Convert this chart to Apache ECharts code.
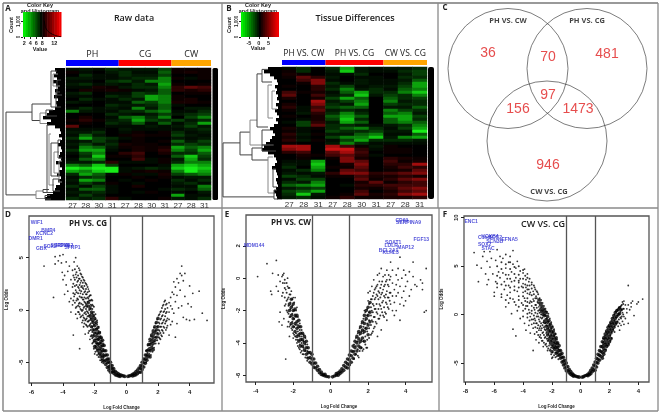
<!DOCTYPE html>
<html><head><meta charset="utf-8">
<style>html,body{margin:0;padding:0;background:#fff}#c{width:662px;height:415px;filter:blur(0.35px)}</style>
<script src="https://cdn.jsdelivr.net/npm/echarts@6/dist/echarts.min.js"></script>
</head><body><div id="c"></div>
<script>
// ---------- heatmap A ----------
const rawSamples=['27','28','30','31','27','28','30','31','27','28','31'];
const rawGroups=[['PH',0,4],['CG',4,8],['CW',8,11]];
const rawRows=[
[-1,-2,-1,-3,-2,-2,-2,-4,1,1,1],[1,-1,0,-2,-3,-1,-1,-5,1,2,1],[0,-3,-1,-1,-3,-2,-2,-4,0,0,1],[-2,-2,-1,-1,-2,-3,-3,-6,1,-1,1],
[-1,-1,0,-3,-4,-2,-6,-6,0,0,0],[-2,-3,-1,-2,-1,-3,-2,-7,1,0,1],[-1,-1,2,1,-2,-3,-3,-6,3,5,4],[0,2,1,2,1,-1,-2,-5,3,2,3],
[-2,-3,0,-1,-1,-4,-3,-5,0,1,1],[-1,-1,0,-3,-2,-4,-7,-6,1,0,0],[0,-3,-1,-1,-3,-2,-7,-6,1,2,0],[-2,-1,0,-1,-1,-5,-4,-6,2,2,1],
[0,0,0,-3,-2,-2,-3,-5,-1,0,0],[-1,-3,-1,-2,-1,-6,-2,-5,0,-2,-2],[-6,-2,-1,-1,-3,-3,-5,-6,-1,-1,-3],[0,0,0,-3,-2,-1,-2,-4,-2,-3,-4],
[0,2,0,-1,-5,-6,-3,-6,0,-4,-6],[1,3,1,-2,-3,-7,-4,-3,-4,-2,-3],[0,1,0,-3,-2,-5,-1,-5,-1,-3,-7],[5,0,0,-1,-1,-1,-2,-1,-2,-4,-2],
[-1,-1,-1,0,-2,-1,-1,-1,-1,-2,-3],[-2,-2,-3,0,-1,1,0,1,-3,-1,-2],[-1,-5,-2,0,1,2,1,1,-4,-2,-1],[-3,-7,-4,-3,-1,1,0,0,-2,-1,-2],
[-1,-2,-4,-2,0,1,0,1,-5,-2,-4],[-2,-4,-2,-3,2,1,1,0,-3,-4,-3],[-1,-6,-5,-2,1,2,1,2,-7,-5,-6],[-3,-7,-7,-1,0,2,1,3,-6,-4,-7],
[-1,-4,-6,0,3,4,0,2,-3,-3,-5],[0,-3,-8,1,1,3,0,0,-5,-8,-4],[-1,-5,-6,0,0,4,-1,1,-2,-7,-3],[-2,-2,-3,3,-1,-1,-1,1,-3,-6,-6],
[-6,-5,-8,-4,0,0,0,-1,-7,-8,-7],[-9,-8,-9,-9,-1,-2,-3,-2,-8,-9,-8],[-7,-6,-8,-9,-1,1,2,1,-6,-9,-7],[-3,-7,-5,-1,1,-1,-1,2,-4,-5,-6],
[-1,-3,-4,0,0,1,0,1,-1,-2,-2],[-2,-7,-6,0,-1,0,1,0,-3,-1,-3],[-1,-4,-2,1,0,-1,0,0,-2,-3,-1],[-3,-1,-4,-1,0,2,0,0,-1,-1,-6],
[-1,-5,-5,-1,0,0,0,-1,-3,-2,-5],[-2,-2,-3,-1,0,-1,1,0,-1,0,-2],[-1,-4,-2,0,0,0,0,0,-7,-1,-1],[-3,-2,-3,3,-1,0,0,1,-2,-1,-3]];
// ---------- heatmap B ----------
const diffSamples=['27','28','31','27','28','30','31','27','28','31'];
const diffGroups=[['PH VS. CW',0,3],['PH VS. CG',3,7],['CW VS. CG',7,10]];
const diffRows=[
[-1,-3,0,-3,-7,-2,-1,-2,-2,-3],[1,-3,0,-2,-8,-2,-1,-1,-3,-4],[2,1,0,-1,-1,-3,0,0,-2,-4],[1,5,3,-2,0,-1,-1,0,-3,-3],
[0,4,6,-1,0,-2,-1,-1,-2,-5],[0,1,6,-3,-1,-2,-1,-1,-3,-7],[1,0,3,-2,-4,-1,-2,-2,-4,-7],[0,0,3,-3,-6,-2,-3,-1,-5,-6],
[4,1,2,-1,-5,-7,-3,-3,-6,-8],[5,0,4,-2,-3,-8,-2,-4,-3,-6],[2,0,2,-4,-7,-5,0,-5,-3,-4],[0,0,7,-2,-4,-6,0,-6,-2,-3],
[2,0,6,-3,-2,-7,0,-4,-3,-3],[3,-1,4,-4,-5,-5,0,-2,-2,-5],[1,-1,5,-2,-3,-2,0,-6,-4,-3],[0,-2,3,-3,-6,-3,0,-5,-6,-2],
[1,0,2,-5,-7,-5,0,-7,-7,-4],[0,-1,2,-4,-8,-3,0,-5,-7,-3],[-1,-4,3,-2,-7,-5,0,-5,-6,-5],[0,-4,5,-3,-3,-2,-1,-2,-3,-6],
[2,-1,1,-3,-5,-6,-3,-1,-4,-7],[1,-1,0,-4,-3,-3,-4,-2,-2,-9],[3,-2,1,-2,-2,-5,-6,-1,-1,-5],[2,-1,0,-4,-6,-6,-8,-2,-6,-7],
[3,-2,1,-1,-4,-7,-3,-3,-3,-2],[1,0,0,-2,-6,-3,-1,-1,-1,-1],[7,7,0,7,4,1,-2,1,0,0],[6,7,0,8,8,3,-1,1,1,0],
[3,4,0,5,7,4,0,1,1,0],[0,2,1,4,5,3,-1,0,0,0],[0,1,0,1,6,2,0,3,2,1],[-1,-1,-7,0,6,5,0,4,1,2],
[-2,-1,-8,0,2,6,0,3,3,7],[-3,0,-7,1,1,5,0,2,4,3],[-1,-3,-6,0,5,4,0,1,2,5],[-2,-1,-2,3,6,6,3,4,5,6],
[-4,-3,-1,1,1,4,2,2,3,2],[-1,-4,-4,0,0,5,1,3,5,6],[-3,-2,-6,0,0,2,5,1,3,4],[-5,-6,-7,0,-1,3,3,4,4,4],
[-2,-3,-4,0,0,2,1,3,5,6],[-4,-5,-7,0,0,4,0,2,4,5],[-3,-8,-2,0,1,5,2,3,6,7],[-2,-3,-1,1,3,1,1,2,2,3]];
// ---------- dendrograms: [height, rowTop, rowBottom, heightTop, heightBottom] ----------
const rawLinks=[
[59,14.7,42.3,33,29],[33,12,17.5,14,25],[25,15,18.5,19,18],[19,14,16,12,8],[14,1,13,8,9],[12,2,6,7,5],[9,8,13,5,4],
[18,19,41.5,16,12],[16,22,39,14,11],[14,25,36,7,6],[12,37,41,6,5],[29,41,43.5,22,20],[22,40.5,41.5,16,14],[20,42.5,43.7,15,14],
[11,28,35,6,5],[7,24,30,4,3],[8,4,9,4,3],[6,31,38,3,3]];
const rawWedges=[
[10,0,1],[9,1,2],[11,2,3],[8,3,4],[12,4,5],[9,5,6],[7,6,7],[10,7,8],[8,8,9],[11,9,10],[7,10,11],[9,11,12],[8,12,13],[10,13,14],
[16,14,15],[18,15,16],[22,16,17],[14,17,18],[18,18,19],[10,19,20],[5,20,21],[4,21,22],[6,22,23],[3,23,24],[5,24,25],[7,25,26],
[4,26,27],[3,27,28],[5,28,29],[6,29,30],[4,30,31],[9,31,32],[5,32,33],[3,33,34],[6,34,35],[8,35,36],[4,36,37],[7,37,38],[5,38,39],
[9,39,40],[10,40,41],[12,41,42],[18,42,43],[20,43,44]];
const diffLinks=[
[59,25.3,43.3,42,8],[42,21.7,29.3,32,30],[32,17.7,26,25,20],[25,2.3,20,20,14],[20,0.8,5,14,10],[14,6,17,10,9],[20,21,26,12,8],
[30,27,31,20,14],[14,30,42,9,7],[20,26,28,9,6],[8,41,44,5,4],[10,8,14,7,5],[9,34,40,6,5]];
const diffWedges=[
[14,0,1],[18,1,2],[12,2,3],[8,3,4],[5,4,5],[4,5,6],[7,6,7],[5,7,8],[6,8,9],[4,9,10],[5,10,11],[3,11,12],[6,12,13],[4,13,14],
[7,14,15],[5,15,16],[3,16,17],[6,17,18],[4,18,19],[8,19,20],[12,20,21],[9,21,22],[7,22,23],[10,23,24],[12,24,25],[16,25,26],
[18,26,27],[20,27,28],[14,28,29],[8,29,30],[6,30,31],[5,31,32],[7,32,33],[10,33,34],[6,34,35],[5,35,36],[4,36,37],[6,37,38],
[5,38,39],[4,39,40],[6,40,41],[8,41,42],[6,42,43],[5,43,44]];
// ---------- histograms in the colour keys ----------
const rawHistogram=[[8.6,1050],[9,620],[9.6,420],[10.4,280],[11.4,170],[12.4,90],[13.4,40],[14.2,15]];
// ---------- Venn ----------
const vennNames=['PH VS. CW','PH VS. CG','CW VS. CG'];
const vennCounts=[36,70,481,156,97,1473,946];
// ---------- volcano D: PH VS. CG (log fold change, log odds) ----------
const dDense=[-.1,-6.35,-.2,-6.3,-.3,-6.25,-.4,-6.2,-.4,-6.35,-.5,-6.1,-.5,-6.3,-.6,-6,-.6,-6.25,-.7,-5.85,-.7,-6.2,-.8,-5.6,-.8,-6.05,-.8,-5.85,-.9,-5.3,-.9,-5.6,-.9,-5.9,-1,-5,-1,-5.3,-1,-5.6,-1,-5.95,-1.1,-4.7,-1.1,-5,-1.1,-5.4,-1.1,-5.75,-1.2,-4.3,-1.2,-4.7,-1.2,-5.05,-1.2,-5.5,-1.3,-3.9,-1.3,-4.3,-1.3,-4.8,-1.3,-5.2,-1.4,-3.4,-1.4,-3.9,-1.4,-4.4,-1.4,-4.9,-1.5,-2.9,-1.5,-3.4,-1.5,-3.9,-1.5,-4.4,-1.5,-4.8,-1.6,-2.6,-1.6,-3,-1.6,-3.5,-1.6,-4,-1.6,-4.5,-1.7,-2.2,-1.7,-2.7,-1.7,-3.2,-1.7,-3.7,-1.7,-4.2,-1.8,-1.7,-1.8,-2.2,-1.8,-2.8,-1.8,-3.3,-1.8,-3.9,-1.9,-1.2,-1.9,-1.9,-1.9,-2.5,-1.9,-3.1,-1.9,-3.6,-2,-.8,-2,-1.5,-2,-2.2,-2,-2.9,-2,-3.5,-2.1,-.5,-2.1,-1.2,-2.1,-1.9,-2.1,-2.5,-2.2,-.2,-2.2,-.9,-2.2,-1.6,-2.3,.2,-2.3,-.6,-2.4,.7,-2.5,.4,
.1,-6.35,.2,-6.3,.3,-6.25,.4,-6.3,.4,-6.15,.5,-6.05,.5,-6.25,.6,-5.9,.6,-6.2,.7,-5.75,.7,-6.1,.8,-5.55,.8,-5.95,.9,-5.3,.9,-5.6,.9,-5.95,1,-5,1,-5.35,1,-5.7,1.1,-4.7,1.1,-5.05,1.1,-5.45,1.2,-4.3,1.2,-4.7,1.2,-5.1,1.3,-3.9,1.3,-4.3,1.3,-4.8,1.4,-3.3,1.4,-3.8,1.4,-4.4,1.5,-2.8,1.5,-3.3,1.5,-3.9,1.5,-4.5,1.6,-2.4,1.6,-3,1.6,-3.6,1.7,-2,1.7,-2.6,1.7,-3.2,1.7,-3.8,1.8,-1.6,1.8,-2.2,1.8,-2.9,1.9,-1.2,1.9,-1.9,1.9,-2.6,2,-.8,2,-1.6,2,-2.3];
const dSparse=[-5.2,4.2,-4.6,1.2,-4.5,5.1,-4.5,4.4,-4.3,4.7,-4.2,5.2,-4.1,4.5,-4.05,3.6,-4,5.3,-4,2.9,-3.9,3.3,-3.9,1.5,-3.8,4.6,-3.8,2.4,-3.7,3.7,-3.7,1.8,-3.6,4.2,-3.6,.8,-3.5,2.9,-3.5,1.1,-3.5,-.2,-3.4,3.8,-3.4,2.2,-3.4,.5,-3.35,-2.4,-3.3,4.6,-3.3,3.1,-3.3,1.3,-3.2,5,-3.2,3.4,-3.2,1.9,-3.2,.2,-3.2,-.4,-3.1,4.2,-3.1,2.7,-3.1,1.1,-3.1,-.8,-3,4,-3,3,-3,2.1,-3,.6,-3,-.2,-2.95,-3.7,-2.9,3.5,-2.9,2.6,-2.9,1.6,-2.9,.1,-2.9,-.7,-2.8,3.2,-2.8,2.3,-2.8,1.2,-2.8,-.1,-2.8,-1.2,-2.7,2.9,-2.7,2,-2.7,1,-2.7,.2,-2.7,-.7,-2.7,-1.6,-2.6,2.6,-2.6,1.8,-2.6,.7,-2.6,-.2,-2.6,-1,-2.6,-2.3,-2.5,2.4,-2.5,1.5,-2.5,-.1,-2.5,-.8,-2.5,-1.5,-2.4,2,-2.4,1.1,-2.4,-.3,-2.4,-1.1,-2.4,-2.2,-2.3,1.4,-2.3,.9,-2.3,-1.4,-2.3,-2.8,-2.2,1,-2.2,.4,-2.2,-2.4,-2.1,.4,-2.1,-3.1,-2,-4.2,
2.1,-.4,2.1,-1.3,2.1,-2,2.1,-2.7,2.2,-.1,2.2,-.8,2.2,-1.6,2.2,-2.4,2.3,.4,2.3,-.5,2.3,-1.2,2.3,-2,2.4,.8,2.4,-.1,2.4,-.9,2.4,-1.7,2.5,.5,2.5,-.3,2.5,-1.1,2.5,-1.9,2.6,.2,2.6,-.8,2.6,-1.5,2.7,.7,2.7,-.2,2.7,-.9,2.7,-2.4,2.8,1.2,2.8,.4,2.8,-1.4,2.9,1.7,2.9,.1,2.9,-1.1,3,2.7,3,1.5,3,-.3,3.1,2.2,3.1,.8,3.1,-2.6,3.2,3,3.2,1.4,3.2,-1.3,3.3,2.6,3.3,.2,3.4,3.5,3.4,1.9,3.5,4.2,3.5,3.3,3.5,.4,3.6,2.8,3.6,-.7,3.7,3.5,3.7,1.3,3.8,-.9,3.9,.6,4,2.3,4,-1,4.1,.3,4.2,1.6,4.3,-.9,4.6,1.8,4.8,-.3,5.1,-1];
const dBand=[[-3.35,[3.3,2.5,1.6,.9]],[-3.25,[3.9,2.9,2.3,1.5,.7]],[-3.15,[3.6,3.1,2.4,1.7,.9,.3]],[-3.05,[3.3,2.8,2.2,1.6,1,.4,-.2]],[-2.95,[3.8,3,2.4,1.9,1.3,.7,.3,-.4]],[-2.85,[3.4,2.8,2.2,1.8,1.2,.6,0,-.6]],[-2.75,[3.1,2.6,2.1,1.5,1,.5,0,-.5,-1]],[-2.65,[2.8,2.3,1.7,1.2,.8,.3,-.3,-.8,-1.3]],[-2.55,[2.5,2,1.5,1.1,.6,.1,-.4,-.9,-1.4]],[-2.45,[2.2,1.7,1.2,.8,.3,-.2,-.6,-1.1,-1.6]],[-2.35,[1.8,1.3,.9,.4,0,-.5,-1,-1.5,-2]],[-2.25,[1.4,.9,.5,.1,-.4,-.8,-1.3,-1.9,-2.5]],[-2.15,[.9,.5,.1,-.3,-.7,-1.1,-1.6,-2.1,-2.7,-3.2]],[-2.05,[.3,-.2,-.6,-1,-1.4,-1.9,-2.4,-3,-3.7]],[-1.95,[-.4,-.9,-1.3,-1.8,-2.2,-2.8,-3.4,-4]],[-1.85,[-1,-1.4,-1.8,-2.3,-2.8,-3.2,-3.8,-4.3]],[-1.75,[-1.6,-2,-2.5,-2.9,-3.5,-4.1,-4.5]],[-1.65,[-2.1,-2.5,-3.2,-3.8,-4.3,-4.8]],[-1.55,[-2.7,-3.2,-3.7,-4.2,-4.7,-5]],[-1.45,[-3.2,-3.7,-4.2,-4.6,-5.1]],
[1.25,[-3.9,-4.5,-5]],[1.35,[-3.4,-4.1,-4.6]],[1.45,[-3,-3.6,-4.2]],[1.55,[-2.5,-3.2,-3.8,-4.3]],[1.65,[-2.2,-2.8,-3.4,-4]],[1.75,[-1.7,-2.4,-3,-3.6]],[1.85,[-1.3,-2,-2.6,-3.2]],[1.95,[-.9,-1.6,-2.2,-2.9]],[2.05,[-.5,-1.2,-1.9,-2.6,-3.2]],[2.15,[-.2,-.9,-1.6,-2.2,-2.8]],[2.25,[.2,-.6,-1.3,-1.9,-2.5]],[2.35,[.5,-.2,-1,-1.6,-2.2]],[2.45,[.9,.1,-.6,-1.3]],[2.55,[.6,-.2,-1,-1.7]]];
const dGenes=[['WIF1',-5.66,8.4],['KCNC2',-5.18,7.3],['BMP4',-4.93,7.55],['DMR1',-5.73,6.8],['GBX',-5.37,5.83],['SOX2',-4.82,6.1],['SERPIN',-4.2,6.2],['HOXB2',-3.9,6.15],['SFRP1',-3.4,6]];
// ---------- volcano E: PH VS. CW ----------
const eDense=[-.1,-6.1,-.2,-6.08,-.3,-6.05,-.3,-5.95,-.4,-5.95,-.4,-6,-.5,-5.8,-.5,-5.95,-.6,-5.65,-.6,-5.85,-.7,-5.45,-.7,-5.7,-.8,-5.25,-.8,-5.55,-.9,-5,-.9,-5.25,-.9,-5.5,-1,-4.7,-1,-5,-1,-5.3,-1.1,-4.6,-1.1,-4.9,-1.1,-5.2,-1.2,-4.3,-1.2,-4.6,-1.2,-4.95,-1.3,-3.9,-1.3,-4.3,-1.3,-4.7,-1.4,-3.6,-1.4,-4,-1.4,-4.45,-1.5,-3.4,-1.5,-3.8,-1.5,-4.2,-1.6,-3,-1.6,-3.4,-1.6,-3.8,-1.6,-4.2,-1.7,-2.6,-1.7,-3,-1.7,-3.5,-1.7,-3.9,-1.8,-2.3,-1.8,-2.7,-1.8,-3.1,-1.8,-3.6,-1.9,-1.9,-1.9,-2.3,-1.9,-2.8,-1.9,-3.3,-2,-1.6,-2,-2,-2,-2.5,-2,-3,-2.1,-1.3,-2.1,-1.8,-2.1,-2.3,-2.1,-2.8,-2.2,-1.6,-2.2,-2,
.1,-6.1,.2,-6.05,.3,-6,.3,-5.9,.4,-5.85,.4,-6,.5,-5.75,.5,-5.9,.6,-5.6,.6,-5.8,.7,-5.4,.7,-5.7,.8,-5.2,.8,-5.5,.9,-5,.9,-5.3,.9,-5.55,1,-4.75,1,-5.05,1,-5.35,1.1,-4.5,1.1,-4.8,1.1,-5.2,1.2,-4.2,1.2,-4.55,1.2,-4.95,1.3,-3.9,1.3,-4.3,1.3,-4.7,1.4,-3.6,1.4,-4,1.4,-4.5,1.5,-3.3,1.5,-3.75,1.5,-4.2,1.6,-3,1.6,-3.4,1.6,-3.9,1.6,-4.3,1.7,-2.7,1.7,-3.2,1.7,-3.7,1.8,-2.3,1.8,-2.8,1.8,-3.3,1.8,-3.9,1.9,-2,1.9,-2.5,1.9,-3.1,2,-1.8,2,-2.3,2,-2.9,2,-3.5,2.1,-1.5,2.1,-2.1,2.1,-2.7];
const eSparse=[-3.9,.1,-3.4,.9,-3.2,-.8,-3.15,-1,-3.1,.3,-2.9,1.1,-2.9,-.5,-2.8,.2,-2.8,-.8,-2.7,-.2,-2.6,.1,-2.6,-1.1,-2.5,-2.5,-2.5,.3,-2.45,-.3,-2.4,-.7,-2.4,-1.6,-2.4,-5,-2.3,.0,-2.3,-.5,-2.3,-1.3,-2.3,-2.1,-2.2,-.6,-2.2,-1,-2.2,-2.4,-2.2,-3,-2.1,-.8,-2.1,-3.1,-2,-1.2,-2,-3.4,-2,-3.7,-1.9,-1.2,-1.9,-3.6,-1.8,-4,-1.8,-1.8,-1.7,-4.3,-1.6,-4.6,-1.5,-4.7,-2.7,-2.1,-2.75,-2.7,-2.6,-2.9,-2.3,-3,-2.2,-3.6,
1.5,-4.9,1.7,-4.5,1.8,-2,1.9,-4.3,2,-.9,2,-1.4,2.1,-.8,2.2,-.5,2.2,-1.3,2.2,-2,2.2,-2.6,2.2,-3.4,2.3,-.1,2.3,-.9,2.3,-1.7,2.3,-2.4,2.3,-3.1,2.4,-.6,2.4,-1.2,2.4,-1.9,2.4,-2.7,2.5,.2,2.5,-.4,2.5,-1.1,2.5,-2.2,2.5,-3.6,2.6,.3,2.6,-.2,2.6,-.9,2.6,-1.6,2.6,-2.5,2.7,.6,2.7,-.4,2.7,-1,2.7,-1.9,2.7,-3.2,2.8,.1,2.8,-.7,2.8,-1.4,2.8,-2.3,2.9,.2,2.9,-.4,2.9,-1.2,2.9,-2.1,3,.5,3,-.1,3,-.8,3,-1.6,3,-2.6,3.1,.2,3.1,-.5,3.1,-1.2,3.1,-1.9,3.2,1,3.2,.1,3.2,-.9,3.2,-1.6,3.3,.5,3.3,-.3,3.3,-1.1,3.3,-2,3.4,-.7,3.4,-1.5,3.4,-2.3,3.5,.2,3.5,-.4,3.5,-1.1,3.5,-2,3.6,.6,3.6,-.1,3.6,-.9,3.7,1.3,3.7,-.5,3.7,-1.6,3.7,-2.6,3.8,0,3.8,-1.2,3.9,.5,3.9,-.8,3.9,-1.7,4,.2,4,-.5,4,-1.4,4.1,-.2,4.2,.4,4.2,-1.1,4.3,-.7,4.4,.1,4.4,1,4.5,-.4,4.6,-.5,4.8,-.1,4.9,-.3,4.9,-.7,5,-2.1,5.1,.6,5.1,-2];
const eBand=[[-2.55,[.2,-.3,-.9]],[-2.45,[-.1,-.6,-1.2,-1.7]],[-2.35,[-.3,-.9,-1.4,-2]],[-2.25,[-.6,-1.2,-1.7,-2.2,-2.7]],[-2.15,[-1,-1.5,-1.9,-2.4,-2.9]],[-2.05,[-1.3,-1.7,-2.2,-2.7,-3.2]],[-1.95,[-1.5,-2,-2.5,-3,-3.5]],[-1.85,[-2,-2.4,-2.9,-3.4,-3.8]],[-1.75,[-2.4,-2.9,-3.3,-3.8,-4.2]],[-1.65,[-2.8,-3.2,-3.6,-4.1,-4.4]],[-1.55,[-3.2,-3.6,-4,-4.5]],[-1.45,[-3.5,-3.9,-4.3,-4.7]],[-1.35,[-3.7,-4.1,-4.5,-4.9]],[-1.25,[-4.1,-4.5,-4.9,-5.1]],
[1.25,[-4.1,-4.5,-5]],[1.35,[-3.7,-4.2,-4.7]],[1.45,[-3.4,-3.9,-4.4,-4.8]],[1.55,[-3.1,-3.5,-4,-4.5]],[1.65,[-2.8,-3.3,-3.8,-4.3]],[1.75,[-2.5,-3,-3.4,-3.9,-4.4]],[1.85,[-2.1,-2.6,-3.1,-3.6,-4.1]],[1.95,[-1.9,-2.3,-2.8,-3.3,-3.8,-4.3]],[2.05,[-1.6,-2.1,-2.6,-3.1,-3.7]],[2.15,[-1.3,-1.8,-2.3,-2.9,-3.5]],[2.25,[-1.1,-1.6,-2.1,-2.7,-3.3]],[2.35,[-.7,-1.3,-1.9,-2.4,-3]],[2.45,[-.5,-1,-1.6,-2.1,-2.8]],[2.55,[-.8,-1.3,-1.9,-2.5]],[2.65,[-.6,-1.2,-1.7,-2.3]],[2.75,[-.2,-.9,-1.5,-2.1]],[2.85,[-.5,-1.1,-1.8,-2.4]],[2.95,[-.2,-1,-1.5,-2.2]],[3.05,[-.4,-1.2,-1.8]],[3.15,[-.1,-.9,-1.4]]];
const eGenes=[['CD69',3.8,3.54],['SERPINA9',4.16,3.43],['FGF13',4.84,2.41],['MDM144',-4.09,2.04],['SOAT1',3.34,2.18],['LDLR',3.23,2],['MAP12',4,1.9],['BCL2A1',3.09,1.73],['KLHL3',3.2,1.58]];
// ---------- volcano F: CW VS. CG ----------
const fDense=[-.1,-6.45,-.2,-6.42,-.3,-6.38,-.4,-6.3,-.5,-6.2,-.5,-6.35,-.6,-6.05,-.6,-6.25,-.7,-5.85,-.7,-6.15,-.8,-5.65,-.8,-6,-.9,-5.35,-.9,-5.8,-1,-5,-1,-5.4,-1,-5.8,-1.1,-4.7,-1.1,-5.1,-1.1,-5.5,-1.2,-4.4,-1.2,-4.8,-1.2,-5.2,-1.3,-4,-1.3,-4.4,-1.3,-4.9,-1.4,-3.7,-1.4,-4.1,-1.4,-4.5,-1.5,-3.2,-1.5,-3.7,-1.5,-4.2,-1.6,-2.9,-1.6,-3.4,-1.6,-3.9,-1.7,-2.4,-1.7,-2.9,-1.7,-3.4,-1.7,-4,-1.8,-2,-1.8,-2.5,-1.8,-3.1,-1.8,-3.6,-1.9,-1.7,-1.9,-2.2,-1.9,-2.8,-1.9,-3.4,-2,-1.3,-2,-1.9,-2,-2.5,-2,-3.1,-2,-3.8,-2.1,-1,-2.1,-1.6,-2.1,-2.2,-2.1,-2.8,-2.2,-.6,-2.2,-1.2,-2.2,-1.8,-2.2,-2.5,-2.3,-.2,-2.3,-.8,-2.3,-1.5,-2.3,-2.1,-2.4,.2,-2.4,-.5,-2.4,-1.2,-2.5,.4,-2.5,-.1,-2.5,-.8,-2.6,.6,-2.6,0,-2.7,.9,-2.7,.3,-2.8,1.2,-2.8,.5,-2.9,1.5,
.1,-6.45,.2,-6.4,.3,-6.3,.4,-6.25,.5,-6.15,.5,-6.3,.6,-6,.6,-6.2,.7,-5.75,.7,-6.1,.8,-5.5,.8,-5.9,.9,-5.2,.9,-5.7,1,-4.9,1,-5.3,1,-5.75,1.1,-4.5,1.1,-4.95,1.1,-5.4,1.2,-4.1,1.2,-4.6,1.2,-5,1.3,-3.7,1.3,-4.2,1.3,-4.7,1.4,-3.3,1.4,-3.8,1.4,-4.3,1.5,-2.8,1.5,-3.3,1.5,-3.9,1.5,-4.5,1.6,-2.4,1.6,-2.9,1.6,-3.5,1.6,-4.1,1.7,-2,1.7,-2.5,1.7,-3.1,1.7,-3.7,1.8,-1.7,1.8,-2.2,1.8,-2.8,1.8,-3.3,1.9,-1.3,1.9,-1.9,1.9,-2.5,1.9,-3.1,2,-1.1,2,-1.6,2,-2.2,2,-2.8,2.1,-.8,2.1,-1.3,2.1,-1.9,2.1,-2.5,2.2,-.4,2.2,-1,2.2,-1.6,2.3,-.1,2.3,-.7,2.3,-1.3,2.4,.2,2.4,-.4,2.4,-1,2.5,.4,2.5,-.2,2.5,-.8,2.6,.5,2.6,0,2.7,.7,2.7,.1,2.8,.5];
const fSparse=[-7.4,6.4,-7.2,5.1,-7.1,3.4,-6.9,4.8,-6.8,6,-6.7,6.5,-6.6,4.2,-6.5,5.5,-6.5,3.1,-6.4,3.6,-6.3,6.5,-6.3,4.9,-6.2,5.8,-6.1,4.2,-6,2.3,-6,1.9,-5.9,3.4,-5.9,5.6,-5.8,6.7,-5.8,2.8,-5.7,4.4,-5.6,6,-5.6,3.8,-5.5,2.1,-5.5,1.8,-5.4,5.8,-5.4,4.3,-5.3,3.4,-5.3,2.6,-5.2,6.2,-5.2,4.8,-5.2,.8,-5.1,3.7,-5.1,2,-5,5.4,-5,4.1,-5,3,-5,1.2,-4.9,6,-4.9,2.3,-4.8,4.4,-4.8,3.4,-4.8,.1,-4.7,6.6,-4.7,5.2,-4.7,1.6,-4.7,-1.5,-4.6,2.9,-4.5,4.8,-4.5,3.8,-4.5,1,-4.5,-2.2,-4.4,5.5,-4.4,2.4,-4.4,.4,-4.3,3.3,-4.3,1.9,-4.2,4.5,-4.2,3.7,-4.2,-.4,-4.1,2.9,-4.1,1.2,-4,4.3,-4,3.2,-4,2.3,-4,.4,-3.9,4.7,-3.9,1.7,-3.9,-.9,-3.8,3.6,-3.8,2.8,-3.8,.9,-3.8,-1.6,-3.7,4.2,-3.7,2.2,-3.7,1.3,-3.7,-.3,-3.6,3.4,-3.6,2.6,-3.6,.5,-3.6,-1.1,-3.5,2.3,-3.5,1.4,-3.5,-.2,-3.5,-1.9,-3.4,3.1,-3.4,.9,-3.4,.1,-3.4,-1,-3.3,2.4,-3.3,1.6,-3.3,-.5,-3.3,-1.4,-3.3,-3.7,-3.2,2.8,-3.2,.5,-3.2,-.4,-3.2,-2,-3.1,1.9,-3.1,1,-3.1,-.9,-3.1,-2.6,-3,2.3,-3,1.3,-3,.1,-3,-1.4,-2.9,.8,-2.9,-.5,-2.9,-1.6,-2.9,-2.9,-2.8,-.3,-2.8,-1.2,-2.8,-2.1,-2.7,-.4,-2.7,-1.4,-2.7,-2.7,-2.6,-.8,-2.6,-1.8,-2.6,-3.3,-2.5,-1.5,-2.5,-2.4,-2.4,-1.9,-2.4,-3,-2.3,-2.7,-2.3,-3.7,-2.2,-3.2,-2.1,-3.6,-2,-4.5,
2.6,-1.2,2.7,-.9,2.7,-1.6,2.8,.9,2.8,-.4,2.8,-1.1,2.9,1.3,2.9,.2,2.9,-.7,3,1.4,3,.6,3,-.2,3,-1,3.1,1,3.1,-.4,3.2,.6,3.2,.2,3.3,3,3.3,1,3.3,-.9,3.4,.5,3.5,1.2,3.5,.8,3.6,1.4,3.7,-.1,3.9,1.1,4,1.3,4.3,1.6];
const fBand=[[-5.8,[5,4,3.2]],[-5.5,[5.4,4.7,3.1]],[-5.2,[5.2,4.1,3,1.5]],[-4.9,[5.4,4.7,3.7,2.8,1.7]],[-4.6,[4.9,4.2,3.5,2.5,1.3]],[-4.3,[5,4.1,3.5,2.8,1.5,.8]],[-4,[4.6,3.7,2.8,1.9,1,-.2]],[-3.85,[4,3.1,2.4,1.4,.6]],[-3.7,[3.8,3,2.6,1.7,.9,.1]],[-3.55,[3.7,3,2.1,1.2,.2,-.6]],[-3.4,[3.3,2.7,2,1.3,.4,-.5]],[-3.25,[3,2.1,1.4,.7,-.1,-.9]],[-3.15,[2.6,1.7,1,.2,-.6,-1.3]],[-3.05,[2.4,1.7,.7,-.2,-.9,-1.8]],[-2.95,[2.1,1.2,.4,-.2,-1.1,-2.1]],[-2.85,[1.7,1,.2,-.7,-1.4,-2.3]],[-2.75,[1.5,.7,0,-.9,-1.6,-2.4]],[-2.65,[1.2,.4,-.3,-1.1,-1.9,-2.7]],[-2.55,[.9,.2,-.6,-1.3,-2.1,-2.9]],[-2.45,[.6,-.1,-.9,-1.6,-2.3,-3.1]],[-2.35,[.3,-.4,-1.1,-1.8,-2.5,-3.3]],[-2.25,[.1,-.7,-1.4,-2,-2.7,-3.5]],[-2.15,[-.4,-1,-1.7,-2.3,-3,-3.7]],[-2.05,[-.8,-1.4,-2.1,-2.7,-3.4,-4.1]],[-1.95,[-1.2,-1.8,-2.5,-3.2,-3.9,-4.4]],[-1.85,[-1.5,-2.2,-2.9,-3.4,-4.2]],[-1.75,[-2,-2.7,-3.3,-3.9,-4.4]],[-1.65,[-2.6,-3.1,-3.7,-4.3]],[-1.55,[-3,-3.6,-4.2,-4.6]],
[1.55,[-2.5,-3.1,-3.7,-4.3]],[1.65,[-2.2,-2.7,-3.3,-3.9]],[1.75,[-1.8,-2.4,-3,-3.6]],[1.85,[-1.5,-2,-2.6,-3.2]],[1.95,[-1.2,-1.8,-2.4,-3]],[2.05,[-.9,-1.5,-2.1,-2.7]],[2.15,[-.6,-1.2,-1.8,-2.4]],[2.25,[-.3,-.9,-1.5]],[2.35,[0,-.6,-1.2,-1.8]],[2.45,[.3,-.3,-.9]],[2.55,[.5,-.1,-.7]],[2.65,[.7,.1,-.5]],[2.75,[.8,.3,-.3]],[2.85,[1,.5,-.2]],[2.95,[1.1,.6,0]]];
const fGenes=[['ENC1',-7.6,9.55],['C1orf',-6.67,7.97],['HOXB4',-6.3,8.04],['SCG2',-5.93,7.94],['SCN3B',-5.97,7.56],['EFNA5',-4.93,7.73],['SOX2',-6.67,7.18],['STAC',-6.43,6.8]];

// ---------- layout ----------
const pairs=a=>{const o=[];for(let i=0;i<a.length;i+=2)o.push([a[i],a[i+1]]);return o};
const bandPoints=b=>b.flatMap(c=>c[1].map(y=>[c[0],y]));
const grid=[],xAxis=[],yAxis=[],series=[],visualMap=[],graphic=[];
const hidden={show:false};
function addGrid(box,x,y){const i=grid.length;
  grid.push(Object.assign({containLabel:false},box));
  xAxis.push(Object.assign({gridIndex:i},x));yAxis.push(Object.assign({gridIndex:i},y));return i}
function text(t,x,y,size,o={}){graphic.push({type:'text',x,y,rotation:o.rot||0,silent:true,style:{text:t,fontSize:size,
  fontFamily:o.font||'Liberation Sans',fontWeight:o.weight||'normal',fill:o.fill||'#222',align:o.align||'center',verticalAlign:'middle'}})}
function line(x1,y1,x2,y2,c,w){graphic.push({type:'line',silent:true,shape:{x1,y1,x2,y2},style:{stroke:c,lineWidth:w}})}
function rect(x,y,w,h,c,r){graphic.push({type:'rect',silent:true,shape:{x,y,width:w,height:h,r:r||0},style:{fill:c}})}
const scaleColor=(v,lo,hi)=>{const mid=(lo+hi)/2,t=Math.max(-1,Math.min(1,(v-mid)/((hi-lo)/2)));
  const c=Math.round(Math.abs(t)*255);return t<0?`rgb(0,${c},0)`:`rgb(${c},0,0)`};

function linkSeries(g,links,wedges){
  series.push({type:'custom',xAxisIndex:g,yAxisIndex:g,silent:true,animation:false,clip:false,data:wedges,
    encode:{x:0,y:1},renderItem(p,api){const a=api.coord([0,api.value(1)]),b=api.coord([api.value(0),api.value(2)]);
      return{type:'rect',shape:{x:b[0],y:a[1],width:a[0]-b[0],height:b[1]-a[1]+.4},style:{fill:'#000'}}}});
  series.push({type:'custom',xAxisIndex:g,yAxisIndex:g,silent:true,animation:false,clip:false,data:links,
    encode:{x:0,y:1},renderItem(p,api){const h=api.value(0),t=api.value(1),b=api.value(2);
      const pts=[api.coord([api.value(3),t]),api.coord([h,t]),api.coord([h,b]),api.coord([api.value(4),b])];
      return{type:'polyline',shape:{points:pts},style:{stroke:p.dataIndex%3==2?'#888':'#444',lineWidth:1,fill:null}}}});
}
function heatPanel(o){
  const dg=addGrid(o.dendro,{type:'value',min:0,max:60,inverse:true,show:false},{type:'value',min:0,max:44,inverse:true,show:false});
  linkSeries(dg,o.links,o.wedges);
  const n=o.samples.length;
  const bg=addGrid(o.bar,{type:'value',min:0,max:n,show:false},{type:'value',min:0,max:1,show:false});
  const barColors=['#0000ff','#ff0000','#ffa500'];
  series.push({type:'custom',xAxisIndex:bg,yAxisIndex:bg,silent:true,animation:false,data:o.groups.map(g=>[g[1],g[2],g[0]]),
    encode:{x:[0,1]},renderItem(p,api){const a=api.coord([api.value(0),1]),b=api.coord([api.value(1),0]);
      return{type:'group',children:[
        {type:'rect',shape:{x:a[0],y:a[1],width:b[0]-a[0],height:b[1]-a[1]},style:{fill:barColors[p.dataIndex]}},
        {type:'text',style:{text:o.groups[p.dataIndex][0],x:(a[0]+b[0])/2,y:a[1]-6,align:'center',verticalAlign:'middle',
          fontSize:o.groupFont,fontFamily:'Open Sans',fill:'#222'}}]}}});
  const hg=addGrid(o.heat,{type:'category',data:o.samples,axisLine:hidden,axisTick:hidden,splitArea:hidden,
      axisLabel:{interval:0,fontSize:8,color:'#333',margin:2,fontFamily:'Liberation Sans'}},
    {type:'category',data:o.rows.map((_,i)=>i),inverse:true,show:false,splitArea:hidden});
  const cells=[];o.rows.forEach((r,y)=>r.forEach((v,x)=>cells.push([x,y,v])));
  const si=series.length;
  series.push({type:'heatmap',xAxisIndex:hg,yAxisIndex:hg,data:cells,silent:true,animation:false,progressive:0});
  visualMap.push({show:false,seriesIndex:si,min:-9,max:9,dimension:2,inRange:{color:['#18ec18','#0a9a0a','#064a06','#021a02','#000000','#1a0000','#4a0606','#9a0a0a','#ec1818']}});
  const kg=addGrid(o.key,{type:'value',min:o.keyRange[0],max:o.keyRange[1],axisLine:{show:false,onZero:false},splitLine:hidden,
      axisTick:{length:2,customValues:o.keyTicks,lineStyle:{color:'#222'}},
      axisLabel:{customValues:o.keyTicks,fontSize:5.5,fontWeight:'bold',margin:3,color:'#222',fontFamily:'Liberation Sans'}},
    {type:'value',min:0,max:1600,splitLine:hidden,axisLine:{show:false,onZero:false},
      axisTick:{length:2,customValues:[0,1000],lineStyle:{color:'#222'}},
      axisLabel:{customValues:[0,1000],fontSize:4.5,fontWeight:'bold',margin:2,rotate:90,color:'#222',fontFamily:'Liberation Sans'}});
  const steps=o.keySteps.map((v,i)=>[v,o.keySteps[i+1]]).slice(0,-1);
  series.push({type:'custom',xAxisIndex:kg,yAxisIndex:kg,silent:true,animation:false,data:steps,encode:{x:[0,1]},
    renderItem(p,api){const a=api.coord([api.value(0),1600]),b=api.coord([api.value(1),0]);
      return{type:'rect',shape:{x:a[0],y:a[1],width:b[0]-a[0]+.5,height:b[1]-a[1]},
        style:{fill:scaleColor((api.value(0)+api.value(1))/2,o.keyRange[0],o.keyRange[1])}}}});
  if(o.hist)series.push({type:'line',xAxisIndex:kg,yAxisIndex:kg,data:o.hist,symbol:'none',silent:true,animation:false,lineStyle:{color:'#000',width:.8}});
}
heatPanel({samples:rawSamples,groups:rawGroups,rows:rawRows,links:rawLinks,wedges:rawWedges,groupFont:9,
  dendro:{left:5,top:68,width:60,height:132},bar:{left:66,top:60,width:145,height:6},heat:{left:66,top:68,width:145,height:132},
  key:{left:23,top:12,width:38,height:25},keyRange:[1.6,14.2],keyTicks:[2,4,6,8,12],hist:rawHistogram,
  keySteps:[1.6,2.4,3.2,4,4.8,5.6,6.4,7.2,8,8.8,9.6,10.4,11.2,12,12.8,13.6,14.2]});
heatPanel({samples:diffSamples,groups:diffGroups,rows:diffRows,links:diffLinks,wedges:diffWedges,groupFont:8.5,
  dendro:{left:222,top:67,width:60,height:132},bar:{left:282,top:60,width:145,height:5},heat:{left:282,top:67,width:145,height:132},
  key:{left:241,top:12,width:37.5,height:25},keyRange:[-9,10],keyTicks:[-5,0,5],
  keySteps:[-9,-8,-7,-6,-5,-4,-3,-2,-1,0,1,2,3,4,5,6,7,8,9,10]});

// Venn: drawn in panel pixels (areas carry no scale)
const vg=addGrid({left:438,top:3,width:220,height:205},{type:'value',min:0,max:220,show:false},{type:'value',min:0,max:205,inverse:true,show:false});
const vennCircleAt=[[70,65.5],[149,65.5],[109,138]];
const vennCountAt=[[50,50],[110,54],[169,51],[80,106],[110,92],[140,106],[110,162]];
const vennNameAt=[[70,18],[149,18],[111,189]];
series.push({type:'scatter',xAxisIndex:vg,yAxisIndex:vg,silent:true,animation:false,data:vennCircleAt,symbolSize:120,
  itemStyle:{color:'rgba(0,0,0,0)',borderColor:'#333',borderWidth:.8}});
series.push({type:'scatter',xAxisIndex:vg,yAxisIndex:vg,silent:true,animation:false,symbolSize:0,
  data:vennCounts.map((v,i)=>({value:vennCountAt[i],name:String(v)})),
  label:{show:true,position:'inside',formatter:'{b}',fontSize:14,color:'#e02020',fontFamily:'Liberation Sans'}});
series.push({type:'scatter',xAxisIndex:vg,yAxisIndex:vg,silent:true,animation:false,symbolSize:0,
  data:vennNames.map((v,i)=>({value:vennNameAt[i],name:v})),
  label:{show:true,position:'inside',formatter:'{b}',fontSize:7.5,fontWeight:'bold',color:'#111',fontFamily:'Open Sans'}});

// Volcano plots
function volcano(o){
  const g=addGrid(o.box,
   {type:'value',min:o.x[0],max:o.x[1],splitLine:hidden,axisLine:{show:false,onZero:false},
    axisTick:{length:3,customValues:o.xt,lineStyle:{color:'#222'}},
    axisLabel:{customValues:o.xt,fontSize:6,fontWeight:'bold',margin:6,color:'#222',fontFamily:'Liberation Sans'},
    name:'Log Fold Change',nameLocation:'middle',nameGap:22,nameTextStyle:{fontSize:4.5,fontWeight:'bold',color:'#222'}},
   {type:'value',min:o.y[0],max:o.y[1],splitLine:hidden,axisLine:{show:false,onZero:false},
    axisTick:{length:3,customValues:o.yt,lineStyle:{color:'#222'}},
    axisLabel:{customValues:o.yt,fontSize:6,fontWeight:'bold',margin:5,rotate:90,color:'#222',fontFamily:'Liberation Sans'},
    name:'Log Odds',nameLocation:'middle',nameGap:20,nameTextStyle:{fontSize:4.5,fontWeight:'bold',color:'#222'}});
  grid[g].show=true;grid[g].borderColor='#555';grid[g].borderWidth=1.3;grid[g].backgroundColor='#fff';
  series.push({type:'scatter',xAxisIndex:g,yAxisIndex:g,data:pairs(o.dense),symbolSize:3.6,silent:true,animation:false,itemStyle:{color:'#000'},
    markLine:{silent:true,symbol:'none',animation:false,label:hidden,lineStyle:{color:'#555',width:1.3,type:'solid'},data:[{xAxis:-1},{xAxis:1}]}});
  series.push({type:'scatter',xAxisIndex:g,yAxisIndex:g,data:bandPoints(o.band),symbolSize:2,silent:true,animation:false,itemStyle:{color:'#000'}});
  series.push({type:'scatter',xAxisIndex:g,yAxisIndex:g,data:pairs(o.sparse),symbolSize:1.8,silent:true,animation:false,itemStyle:{color:'#000'}});
  series.push({type:'scatter',xAxisIndex:g,yAxisIndex:g,data:o.genes.map(d=>({name:d[0],value:[d[1],d[2]]})),symbolSize:0,silent:true,animation:false,
    label:{show:true,position:'inside',formatter:'{b}',fontSize:5,fontWeight:'bold',color:'#2525d0',fontFamily:'Liberation Sans'},labelLayout:{hideOverlap:false}});
}
volcano({box:{left:29,top:216,width:185,height:167},x:[-6.15,5.54],y:[-6.98,8.99],xt:[-6,-4,-2,0,2,4],yt:[-5,0,5],dense:dDense,band:dBand,sparse:dSparse,genes:dGenes});
volcano({box:{left:246,top:215,width:186,height:167},x:[-4.52,5.41],y:[-6.42,3.91],xt:[-4,-2,0,2,4],yt:[-6,-4,-2,0,2],dense:eDense,band:eBand,sparse:eSparse,genes:eGenes});
volcano({box:{left:464,top:216,width:185,height:166},x:[-8.1,4.74],y:[-6.95,10.17],xt:[-8,-6,-4,-2,0,2,4],yt:[-5,0,5,10],dense:fDense,band:fBand,sparse:fSparse,genes:fGenes});

// Panel frames
const fc='#8a8a8a';
[[3,3,658,3],[3,3,3,411],[3,208,658,208],[3,411,658,411],[658,3,658,411],[222,3,222,411],[438,3,438,208],[439,208,439,411]]
  .forEach(s=>line(s[0],s[1],s[2],s[3],s[0]==3&&s[1]==3?'#777':fc,1.3));
rect(212.5,68,5.5,132,'#000',1.5);rect(428,67,6,132,'#000',2);
[['A',8,9],['B',229,9],['C',445,8],['D',8,215],['E',227,215],['F',445,215]].forEach(t=>text(t[0],t[1],t[2],8,{weight:'bold',font:'Open Sans'}));
text('Raw data',134,18,9,{font:'Open Sans',weight:600});
text('Tissue Differences',355,18,9,{font:'Open Sans',weight:600});
text('PH VS. CG',88,224,8,{weight:'bold',font:'Open Sans'});
text('PH VS. CW',291,223,8,{weight:'bold',font:'Open Sans'});
text('CW VS. CG',543,224,9,{font:'Open Sans',weight:600});
[40,258].forEach(cx=>{text('Color Key',cx,5,5.5,{weight:'bold'});text('and Histogram',cx,11,5.5,{weight:'bold'});text('Value',cx,cx<100?49:48,5.5,{weight:'bold'})});
[[11,25],[229,25]].forEach(p=>text('Count',p[0],p[1],5.5,{weight:'bold',rot:Math.PI/2}));

const chart=echarts.init(document.getElementById('c'),null,{renderer:'canvas'});
chart.setOption({animation:false,backgroundColor:'#fff',grid,xAxis,yAxis,series,visualMap,graphic});
</script></body></html>
